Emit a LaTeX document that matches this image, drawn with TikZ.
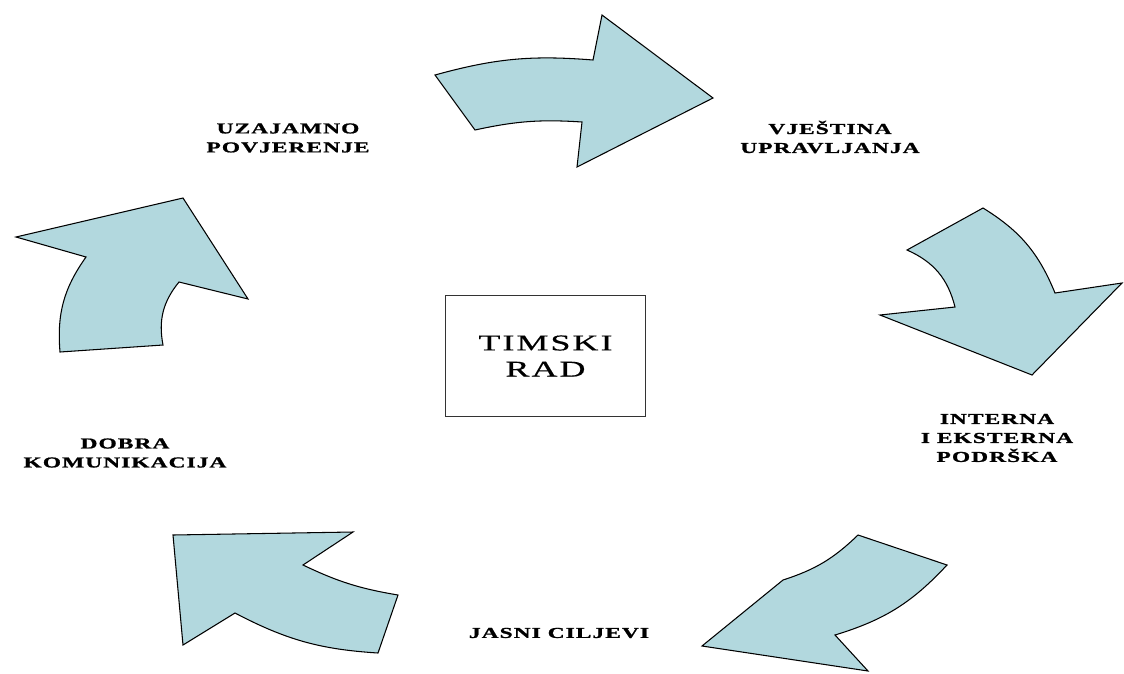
\documentclass[tikz,border=0pt]{standalone}
\usepackage{fontspec}
\usepackage{tikz}
\setmainfont{Liberation Serif}
\newfontfamily\lblfont[FakeStretch=1.55,LetterSpace=7,BoldFeatures={FakeBold=1.2}]{Liberation Serif}
\newfontfamily\boxfont[FakeStretch=1.6,LetterSpace=9,FakeBold=0.6]{Liberation Serif}
\definecolor{arrowfill}{RGB}{178,216,222}
\def\lblsize{\lblfont\bfseries\fontsize{8.6}{10.8}\selectfont}
\def\boxsize{\boxfont\fontsize{12.8}{14.9}\selectfont}

\begin{document}
\begin{tikzpicture}[x=0.02cm, y=-0.02cm,
	arrowshape/.style={draw=black, fill=arrowfill, line width=0.6pt, line join=miter},
	lbltext/.style={align=center, inner sep=0pt, font=\lblsize}]
			%%%%% START %%%%%
			
			\useasboundingbox (0, 0) rectangle (1124, 673);
			
			% top arrow
			\draw[arrowshape] (435, 75) -- (475, 130) to[bend left=8] (582, 122) -- (577, 167) -- (713, 98) -- (602, 15) -- (593, 60) to[bend right=10] cycle;
			
			% right arrow
			\draw[arrowshape] (907, 250) -- (983, 208) to[bend left=18] (1055, 293) -- (1122, 283) -- (1032, 375) -- (880, 315) -- (955, 307) to[bend right=26] cycle;
			
			% bottom right arrow
			\draw[arrowshape] (858, 535) -- (947, 565) to[bend left=15] (835, 635) -- (868, 671) -- (702, 646) -- (783, 580) to[bend right=13] cycle;
			
			% bottom left arrow
			\draw[arrowshape] (173, 535) -- (353, 532) -- (303, 565) to[bend right=8] (398, 595) -- (378, 653) to[bend left=12] (235, 613) -- (183, 645) -- cycle;
			
			% left arrow
			\draw[arrowshape] (16, 237) -- (183, 198) -- (248, 299) -- (179, 282) to[bend right=25] (163, 345) -- (60, 352) to[bend left=20] (86, 257) -- cycle;
			
			% centre box
			\node[draw=black!80, line width=0.9pt, minimum width=114pt, minimum height=69pt, align=center, font=\boxsize] (timski) at (545.5, 356) {TIMSKI\\RAD};
			
			\node[lbltext] (povjerenje) at (288, 138) {UZAJAMNO\\POVJERENJE};
			\node[lbltext] (upravljanje) at (830, 137) {VJEŠTINA\\UPRAVLJANJA};
			\node[lbltext] (podrska) at (997, 438) {INTERNA\\I EKSTERNA\\PODRŠKA};
			\node[lbltext] (ciljevi) at (559, 633) {JASNI CILJEVI};
			\node[lbltext] (komunikacija) at (125, 453) {DOBRA\\KOMUNIKACIJA};
			
			%%%%% END %%%%%
\end{tikzpicture}
\end{document}
